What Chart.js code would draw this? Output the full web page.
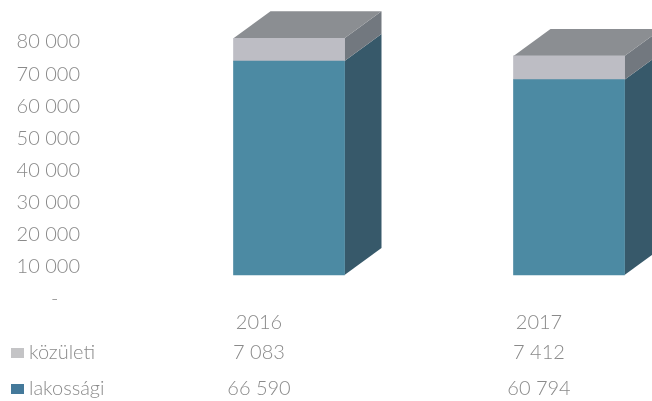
<!DOCTYPE html>
<html>
<head>
<meta charset="utf-8">
<title>Közületi és lakossági</title>
<script src="https://cdn.jsdelivr.net/npm/chart.js@4/dist/chart.umd.min.js"></script>
<style>
  html, body { margin: 0; padding: 0; background: #fff; overflow: hidden; width: 652px; height: 401px; }
  canvas { display: block; }
</style>
</head>
<body>
<canvas id="chart" width="700" height="401"></canvas>
<script>
const years = ["2016", "2017"];
const lakossagi = [66590, 60794];
const kozuleti = [7083, 7412];

const textColor = "#8a8a8a";
const fontFamily = "Lato, 'Open Sans', sans-serif";
const fontSize = 20;
const fontWeight = 300;
const depthX = 37;
const depthY = 27;

const faces = {
  lakossagi: { front: "#4c8aa3", side: "#37596a", swatch: "#44799a" },
  kozuleti: { front: "#bdbdc4", side: "#72787f", swatch: "#c4c4c6" },
  top: "#8b8e92"
};

function formatNumber(value) {
  return String(value).replace(/\B(?=(\d{3})+$)/g, " ");
}

function polygon(ctx, color, pts) {
  ctx.fillStyle = color;
  ctx.beginPath();
  ctx.moveTo(pts[0][0], pts[0][1]);
  pts.slice(1).forEach((p) => ctx.lineTo(p[0], p[1]));
  ctx.closePath();
  ctx.fill();
}

// side and top faces of the columns, the front is the normal bar element
const columnDepth = {
  id: "columnDepth",
  beforeDatasetsDraw(chart) {
    const ctx = chart.ctx;
    ctx.save();
    ctx.translate(30, -24);
    const lower = chart.getDatasetMeta(0).data;
    const upper = chart.getDatasetMeta(1).data;
    lower.forEach((bar, i) => {
      const right = bar.x + bar.width / 2;
      const left = bar.x - bar.width / 2;
      const top = upper[i].y;
      polygon(ctx, faces.lakossagi.side, [[right, bar.base], [right + depthX, bar.base - depthY], [right + depthX, bar.y - depthY], [right, bar.y]]);
      polygon(ctx, faces.kozuleti.side, [[right, bar.y], [right + depthX, bar.y - depthY], [right + depthX, top - depthY], [right, top]]);
      polygon(ctx, faces.top, [[left, top], [right, top], [right + depthX, top - depthY], [left + depthX, top - depthY]]);
    });
  },
  afterDatasetsDraw(chart) {
    chart.ctx.restore();
  }
};

// the rows under the axis: legend key, name, one value per year
const dataRows = {
  id: "dataRows",
  afterDraw(chart) {
    const ctx = chart.ctx;
    const x = chart.scales.x;
    const rows = [
      { name: "közületi", values: kozuleti, color: faces.kozuleti.swatch, y: 353 },
      { name: "lakossági", values: lakossagi, color: faces.lakossagi.swatch, y: 389 }
    ];
    ctx.save();
    ctx.font = fontWeight + " " + fontSize + "px " + fontFamily;
    ctx.textBaseline = "middle";
    rows.forEach((row) => {
      ctx.fillStyle = row.color;
      ctx.fillRect(11, row.y - 5, 13, 10);
      ctx.fillStyle = textColor;
      ctx.textAlign = "left";
      ctx.fillText(row.name, 29, row.y);
      ctx.textAlign = "center";
      row.values.forEach((v, i) => ctx.fillText(formatNumber(v), x.getPixelForValue(i), row.y));
    });
    ctx.restore();
  }
};

new Chart(document.getElementById("chart"), {
  type: "bar",
  data: {
    labels: years,
    datasets: [
      { label: "lakossági", data: lakossagi, backgroundColor: faces.lakossagi.front, barThickness: 111, clip: false },
      { label: "közületi", data: kozuleti, backgroundColor: faces.kozuleti.front, barThickness: 111, clip: false }
    ]
  },
  options: {
    responsive: false,
    animation: false,
    devicePixelRatio: 1,
    layout: { padding: { top: 42, right: 21, bottom: 0, left: 0 } },
    plugins: { legend: { display: false }, tooltip: { enabled: false } },
    scales: {
      x: {
        stacked: true,
        border: { display: false },
        grid: { display: false },
        afterFit(scale) { scale.height = 102; },
        ticks: { color: textColor, font: { family: fontFamily, size: fontSize, weight: fontWeight }, padding: 4, maxRotation: 0 }
      },
      y: {
        stacked: true,
        min: 0,
        max: 80000,
        border: { display: false },
        grid: { display: false, drawTicks: false },
        afterFit(scale) {
          scale.width = 119;
          scale.paddingTop = 0;
          scale.paddingBottom = 0;
        },
        ticks: {
          stepSize: 10000,
          padding: 39,
          color: textColor,
          font: { family: fontFamily, size: fontSize, weight: fontWeight },
          callback: (v) => (v === 0 ? "-\u00a0\u00a0\u00a0\u00a0" : formatNumber(v))
        }
      }
    }
  },
  plugins: [columnDepth, dataRows]
});
</script>
</body>
</html>
